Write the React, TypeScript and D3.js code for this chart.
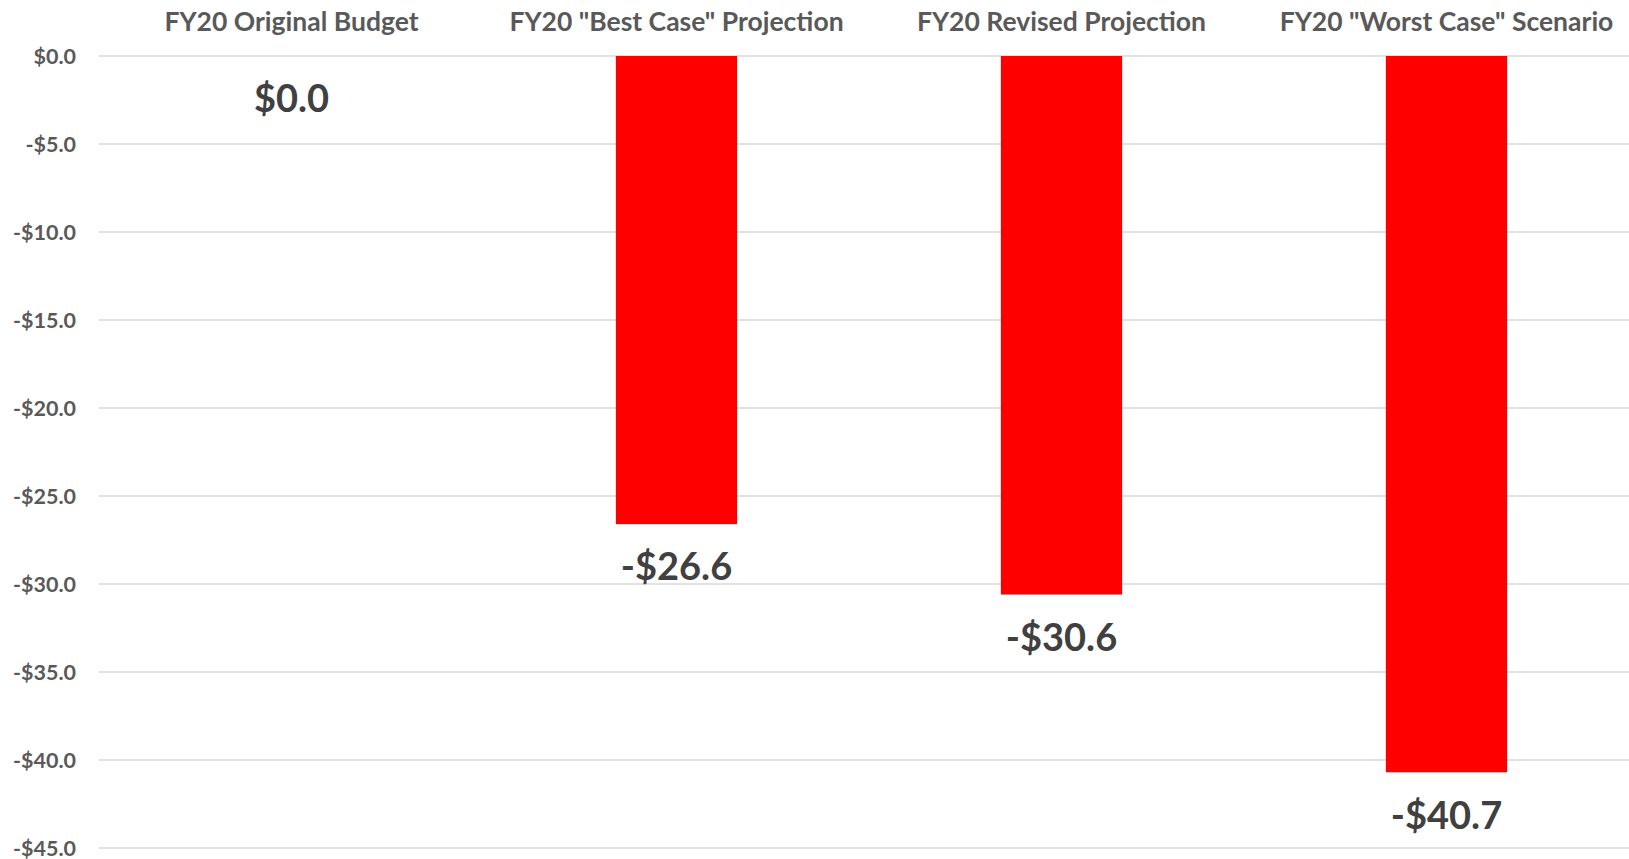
import React from 'react'
import * as d3 from 'd3'

const categories = ['FY20 Original Budget', 'FY20 "Best Case" Projection', 'FY20 Revised Projection', 'FY20 "Worst Case" Scenario']
const values = [0, -26.6, -30.6, -40.7]
const ticks = [0, -5, -10, -15, -20, -25, -30, -35, -40, -45]

const W = 1629
const H = 859
const FONT = 'Lato, "Open Sans", sans-serif'

export default function App() {
    const x = d3.scaleBand<string>()
        .domain(categories)
        .range([99, 1639])
    const y = d3.scaleLinear()
        .domain([0, -45])
        .range([56, 848])

    const barW = x.step() * 0.315
    const fmt = (v: number) => (v < 0 ? '-$' : '$') + Math.abs(v).toFixed(1)

    return (
        <svg width={W} height={H} style={{position: 'absolute', left: 0, top: 0}} fontFamily={FONT}>
            <rect width={W} height={H} fill="#fff" />
            {/* gridlines + tick labels */}
            {ticks.map(t => (
                <g key={t}>
                    <line x1={99} x2={W} y1={y(t)} y2={y(t)} stroke="#d9d9d9" strokeWidth={1.5} />
                    <text x={76} y={y(t)} dy="0.35em" textAnchor="end" fontSize={21.5} fontWeight="bold" fill="#595959">
                        {fmt(t)}
                    </text>
                </g>
            ))}
            {/* category labels on top */}
            {categories.map(c => (
                <text key={c} x={x(c)! + x.bandwidth() / 2} y={31} textAnchor="middle" fontSize={26.5} fontWeight="bold" fill="#595959">
                    {c}
                </text>
            ))}
            {/* bars */}
            {categories.map((c, i) => {
                const cx = x(c)! + x.bandwidth() / 2
                const v = values[i]
                return (
                    <g key={c}>
                        {v !== 0 && (
                            <rect x={cx - barW / 2} y={y(0)} width={barW} height={y(v) - y(0)} fill="#ff0000" />
                        )}
                        <text x={cx} y={y(v) + 43} dy="0.35em" textAnchor="middle" fontSize={38} fontWeight="bold" fill="#404040">
                            {fmt(v)}
                        </text>
                    </g>
                )
            })}
        </svg>
    )
}
